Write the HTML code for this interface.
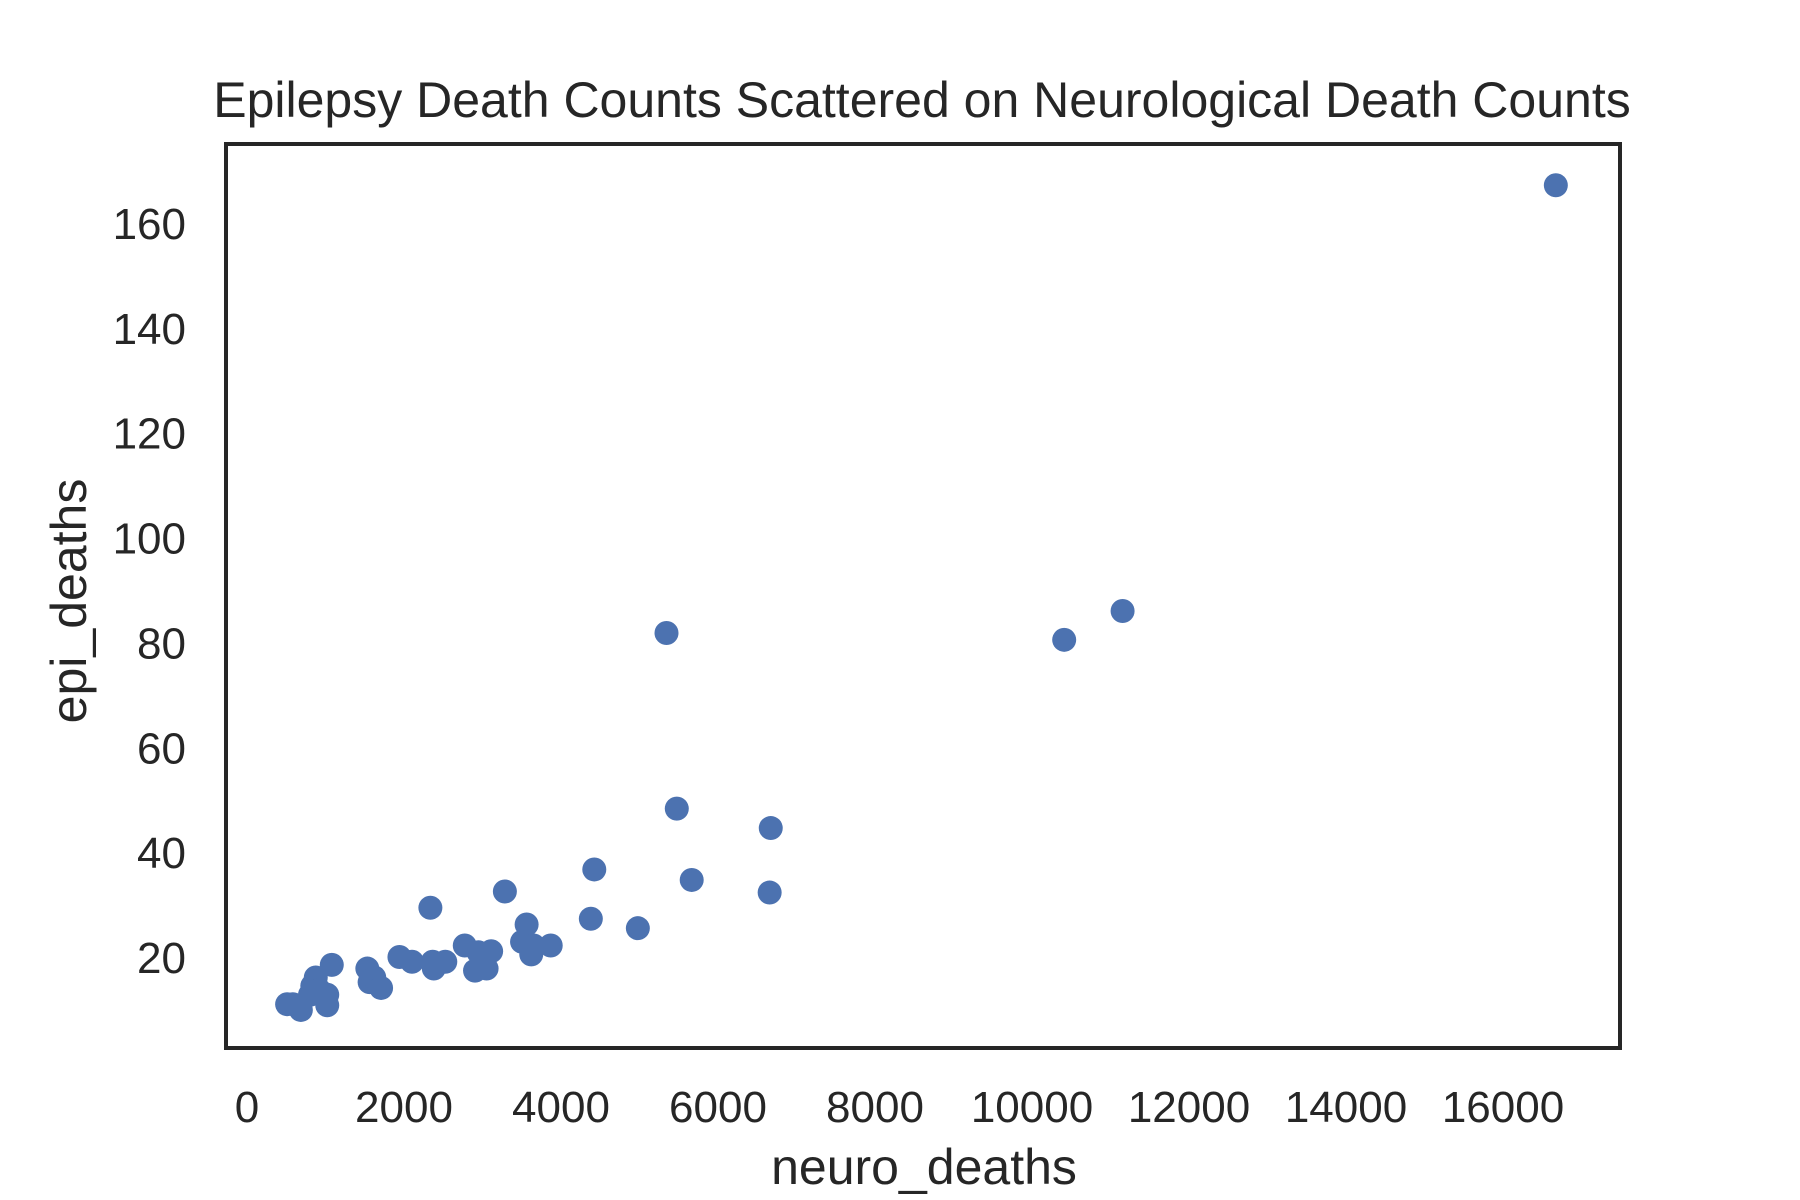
<!DOCTYPE html>
<html><head><meta charset="utf-8"><style>
html,body{margin:0;padding:0;background:#fff;}
svg{display:block;font-family:"Liberation Sans",Arial,sans-serif;}
</style></head><body>
<svg id="chart" width="1800" height="1200" viewBox="0 0 1800 1200">
<rect width="1800" height="1200" fill="#fff"/>
<text x="922" y="117" font-size="50" fill="#262626" text-anchor="middle">Epilepsy Death Counts Scattered on Neurological Death Counts</text>
<g id="marks"></g>
<g id="xticks"></g>
<g id="yticks"></g>
<rect x="226" y="144" width="1394" height="904" fill="none" stroke="#262626" stroke-width="4"/>
<text x="924" y="1184" font-size="50" fill="#262626" text-anchor="middle">neuro_deaths</text>
<text transform="translate(86,601) rotate(-90)" font-size="50" fill="#262626" text-anchor="middle">epi_deaths</text>
</svg>
<script>
const neuroDeaths=[16673,11154,10410,5344,5475,6672,5665,6658,4424,4380,4979,3285,3562,3504,3621,3650,3869,3110,3052,2905,2949,2774,2336,2365,2380,2526,2102,1942,1533,1562,1621,1708,1080,876,832,803,920,1022,1022,511,584,686];
const epiDeaths=[167.2,86,80.5,81.8,48.3,44.6,34.7,32.3,36.7,27.3,25.5,32.5,26.2,22.9,20.5,22.2,22.2,21.1,17.8,17.4,20.9,22.2,29.4,19.1,17.8,19.1,19.1,20,17.8,15.2,16.1,14.1,18.5,16.1,14.5,12.8,13.7,12.8,10.8,11,11,9.9];
const xTickValues=[0,2000,4000,6000,8000,10000,12000,14000,16000];
const yTickValues=[20,40,60,80,100,120,140,160];
const NS="http://www.w3.org/2000/svg";
function xScale(v){return 247+v*0.0785;}
function yScale(v){return 223+(160-v)*5.243;}
const marks=document.getElementById('marks');
neuroDeaths.forEach((n,i)=>{
  const c=document.createElementNS(NS,'circle');
  c.setAttribute('cx',xScale(n));c.setAttribute('cy',yScale(epiDeaths[i]));
  c.setAttribute('r',12);c.setAttribute('fill','#4c72b0');
  
  
  marks.appendChild(c);
});
const xt=document.getElementById('xticks');
xTickValues.forEach(v=>{
  const t=document.createElementNS(NS,'text');
  t.setAttribute('x',xScale(v));t.setAttribute('y',1122);
  t.setAttribute('font-size',44);t.setAttribute('fill','#262626');t.setAttribute('text-anchor','middle');
  t.textContent=v;
  
  
  xt.appendChild(t);
});
const yt=document.getElementById('yticks');
yTickValues.forEach(v=>{
  const t=document.createElementNS(NS,'text');
  t.setAttribute('x',186);t.setAttribute('y',yScale(v)+16);
  t.setAttribute('font-size',44);t.setAttribute('fill','#262626');t.setAttribute('text-anchor','end');
  t.textContent=v;
  
  
  yt.appendChild(t);
});
</script>
</body></html>
